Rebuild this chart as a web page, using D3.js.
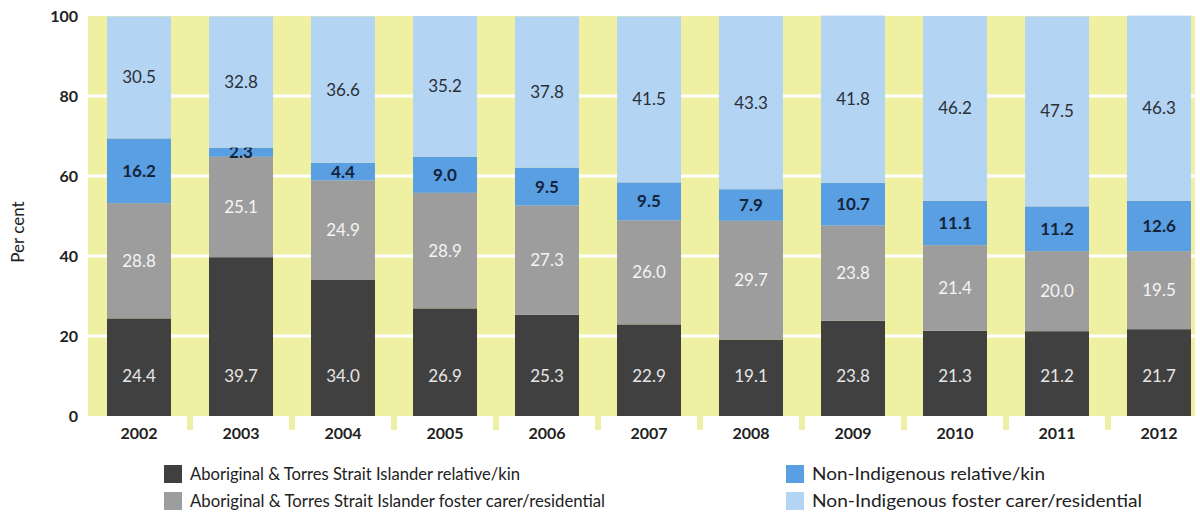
<!DOCTYPE html>
<html>
<head>
<meta charset="utf-8">
<style>
  body { margin: 0; background: #fff; }
  svg text { font-family: Lato, "Open Sans", sans-serif; }
</style>
</head>
<body>
<svg width="1200" height="517"></svg>
<script src="https://d3js.org/d3.v7.min.js"></script>
<script>

var years = ["2002", "2003", "2004", "2005", "2006", "2007", "2008", "2009", "2010", "2011", "2012"];
var atsiKin    = [24.4, 39.7, 34.0, 26.9, 25.3, 22.9, 19.1, 23.8, 21.3, 21.2, 21.7];
var atsiFoster = [28.8, 25.1, 24.9, 28.9, 27.3, 26.0, 29.7, 23.8, 21.4, 20.0, 19.5];
var nonKin     = [16.2, 2.3, 4.4, 9.0, 9.5, 9.5, 7.9, 10.7, 11.1, 11.2, 12.6];
var nonFoster  = [30.5, 32.8, 36.6, 35.2, 37.8, 41.5, 43.3, 41.8, 46.2, 47.5, 46.3];
var yTicks = [0, 20, 40, 60, 80, 100];

var seriesNames = [
  "Aboriginal & Torres Strait Islander relative/kin",
  "Aboriginal & Torres Strait Islander foster carer/residential",
  "Non-Indigenous relative/kin",
  "Non-Indigenous foster carer/residential"
];
var keys = ["atsiKin", "atsiFoster", "nonKin", "nonFoster"];
var colors = ["#404040", "#9d9d9d", "#5b9fe3", "#b4d4f3"];
var labelColors = ["#e6e6e6", "#f4f4f4", "#14243a", "#2a2f38"];

var table = years.map(function(y, i) {
  return {year: y, atsiKin: atsiKin[i], atsiFoster: atsiFoster[i], nonKin: nonKin[i], nonFoster: nonFoster[i]};
});

var svg = d3.select("svg"),
    margin = {top: 16, right: 5, bottom: 101, left: 88},
    width = 1200 - margin.left - margin.right,
    height = 517 - margin.top - margin.bottom,
    g = svg.append("g").attr("transform", "translate(" + margin.left + "," + margin.top + ")");

var x = d3.scaleBand().domain(years).range([19, 1103]).paddingInner(0.3725).paddingOuter(0),
    y = d3.scaleLinear().domain([0, 100]).range([height, 0]);

var stack = d3.stack().keys(keys)(table);

// yellow background
g.append("rect")
    .attr("width", width)
    .attr("height", height)
    .attr("fill", "#f0f0a2");

// small yellow ticks between the columns
g.append("g")
    .selectAll("rect")
    .data(years.slice(1))
  .enter().append("rect")
    .attr("x", function(d) { return x(d) - x.step() * x.paddingInner() / 2 - 3; })
    .attr("y", height)
    .attr("width", 6)
    .attr("height", 14)
    .attr("fill", "#eef0a6");

// white gridlines
g.append("g")
    .selectAll("line")
    .data(yTicks.slice(1, -1))
  .enter().append("line")
    .attr("x1", 0)
    .attr("x2", width)
    .attr("y1", function(d) { return y(d); })
    .attr("y2", function(d) { return y(d); })
    .attr("stroke", "#fff")
    .attr("stroke-width", 3);

// bars
var layer = g.selectAll(".layer")
    .data(stack)
  .enter().append("g")
    .attr("class", "layer")
    .attr("fill", function(d, i) { return colors[i]; });

layer.selectAll("rect")
    .data(function(d) { return d; })
  .enter().append("rect")
    .attr("x", function(d) { return x(d.data.year); })
    .attr("y", function(d) { return y(d[1]); })
    .attr("width", x.bandwidth())
    .attr("height", function(d) { return y(d[0]) - y(d[1]); });

// value labels
layer.each(function(s, si) {
  d3.select(this).selectAll("text")
      .data(s)
    .enter().append("text")
      .attr("x", function(d) { return x(d.data.year) + x.bandwidth() / 2; })
      .attr("y", function(d) {
        // dark labels sit at the same height in every column
        var v = si === 0 ? 10 : (d[0] + d[1]) / 2;
        return y(v);
      })
      .attr("dy", "0.35em")
      .attr("text-anchor", "middle")
      .attr("fill", labelColors[si])
      .style("font-size", "17px")
      .style("font-weight", si === 2 ? "bold" : "normal")
      .text(function(d) { return d.data[s.key].toFixed(1); });
});

// y axis labels
g.append("g")
    .selectAll("text")
    .data(yTicks)
  .enter().append("text")
    .attr("x", -10)
    .attr("y", function(d) { return y(d); })
    .attr("dy", "0.35em")
    .attr("text-anchor", "end")
    .attr("fill", "#222")
    .style("font-size", "16px")
    .style("font-weight", "bold")
    .text(function(d) { return d; });

g.append("text")
    .attr("transform", "translate(-64," + (height / 2 + 16) + ") rotate(-90)")
    .attr("text-anchor", "middle")
    .attr("fill", "#222")
    .style("font-size", "17px")
    .text("Per cent");

// x axis labels
g.append("g")
    .selectAll("text")
    .data(years)
  .enter().append("text")
    .attr("x", function(d) { return x(d) + x.bandwidth() / 2; })
    .attr("y", height + 23)
    .attr("text-anchor", "middle")
    .attr("fill", "#222")
    .style("font-size", "16px")
    .style("font-weight", "bold")
    .text(function(d) { return d; });

// legend
var legendPos = [[164, 465], [164, 492], [786, 465], [786, 492]];
var legendLen = [330, 415, 233, 330];
var legend = svg.append("g")
    .selectAll("g")
    .data(seriesNames)
  .enter().append("g")
    .attr("transform", function(d, i) { return "translate(" + legendPos[i][0] + "," + legendPos[i][1] + ")"; });

legend.append("rect")
    .attr("width", 18)
    .attr("height", 18)
    .attr("fill", function(d, i) { return colors[i]; });

legend.append("text")
    .attr("x", 26)
    .attr("y", 15)
    .attr("fill", "#222")
    .style("font-size", "18px")
    .attr("textLength", function(d, i) { return legendLen[i]; })
    .attr("lengthAdjust", "spacingAndGlyphs")
    .text(function(d) { return d; });

</script>
</body>
</html>
